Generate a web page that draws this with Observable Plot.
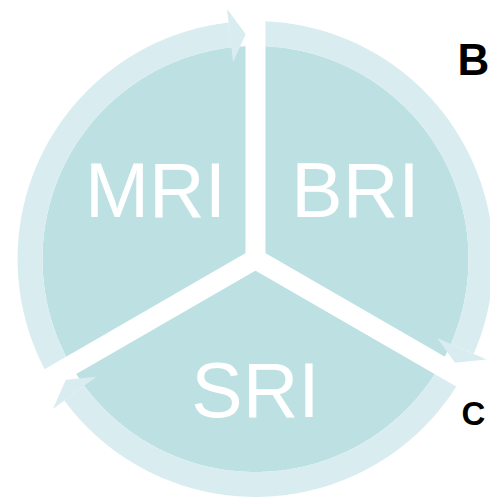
<!DOCTYPE html>
<html><head><meta charset="utf-8">
<script src="https://cdn.jsdelivr.net/npm/d3@7"></script>
<script src="https://cdn.jsdelivr.net/npm/@observablehq/plot@0.6"></script>
<style>html,body{margin:0;padding:0;background:#fff;}</style>
</head><body><div id="chart"></div>
<script>
// Data: three equal phases, clockwise from 12 o'clock
const categories = ["BRI", "SRI", "MRI"];
const values = [1, 1, 1];
const panelLabels = ["B", "C"];

// Geometry (data units, inner disc radius = 1)
const R_IN = 1, R_RING = 1.117, ARROW_IN = 0.93, ARROW_OUT = 1.183, ARROW_TIP_R = 1.056;
const deg = Math.PI / 180;
const pie = d3.pie().sort(null).value(d => d)(values);
const pt = (a, r) => ({x: r * Math.sin(a), y: r * Math.cos(a)});
function arcPts(a0, a1, r) {
  const n = Math.max(2, Math.ceil(Math.abs(a1 - a0) / (0.5 * deg)));
  return d3.range(n + 1).map(i => pt(a0 + (a1 - a0) * i / n, r));
}
const slices = pie.flatMap((p, i) =>
  [pt(0, 0), ...arcPts(p.startAngle, p.endAngle, R_IN)].map(d => ({...d, k: categories[i]})));
const rings = pie.flatMap((p, i) => {
  const base = p.endAngle - 6.5 * deg;
  return [...arcPts(p.startAngle, base, R_RING), ...arcPts(base, p.startAngle, R_IN)]
    .map(d => ({...d, k: categories[i]}));
});
const heads = pie.flatMap((p, i) => {
  const base = p.endAngle - 6.5 * deg, tip = p.endAngle - 2.5 * deg;
  return [pt(base, ARROW_IN), pt(tip, ARROW_TIP_R), pt(base, ARROW_OUT)]
    .map(d => ({...d, k: categories[i]}));
});
const spokes = pie.map(p => {
  const e = pt(p.startAngle, 1.3);
  return {x1: 0, y1: 0, x2: e.x, y2: e.y};
});
const labels = pie.map((p, i) => {
  const m = (p.startAngle + p.endAngle) / 2;
  return {x: 0.542 * Math.sin(m), y: 0.626 * Math.cos(m), label: categories[i]};
});

const PX = 213, CX = 255, CY = 258.5, W = 490, H = 497;
const chart = Plot.plot({
  width: W, height: H, margin: 0,
  x: {domain: [-CX / PX, (W - CX) / PX], axis: null},
  y: {domain: [(CY - H) / PX, CY / PX], axis: null},
  marks: [
    Plot.line(slices, {x: "x", y: "y", z: "k", fill: "#bde0e3", stroke: "none"}),
    Plot.line(rings, {x: "x", y: "y", z: "k", fill: "#d9edf0", stroke: "none"}),
    Plot.line(heads, {x: "x", y: "y", z: "k", fill: "#d9edf0", stroke: "none"}),
    Plot.link(spokes, {x1: "x1", y1: "y1", x2: "x2", y2: "y2", stroke: "white", strokeWidth: 20, strokeLinecap: "round"}),
    Plot.text(labels, {x: "x", y: "y", text: "label", fill: "white", fontSize: 77,
      fontFamily: "Liberation Sans, Arial, sans-serif", lineAnchor: "middle", textAnchor: "middle"}),
    Plot.text([panelLabels[0]], {text: d => d, frameAnchor: "top-right", textAnchor: "start", lineAnchor: "top",
      dx: -33, dy: 43, fontSize: 44, fontWeight: "bold", fill: "black",
      fontFamily: "Liberation Sans, Arial, sans-serif"}),
    Plot.text([panelLabels[1]], {text: d => d, frameAnchor: "bottom-right", textAnchor: "start", lineAnchor: "bottom",
      dx: -29, dy: -72.5, fontSize: 33, fontWeight: "bold", fill: "black",
      fontFamily: "Liberation Sans, Arial, sans-serif"})
  ]
});
document.getElementById("chart").appendChild(chart);
</script>
</body></html>
